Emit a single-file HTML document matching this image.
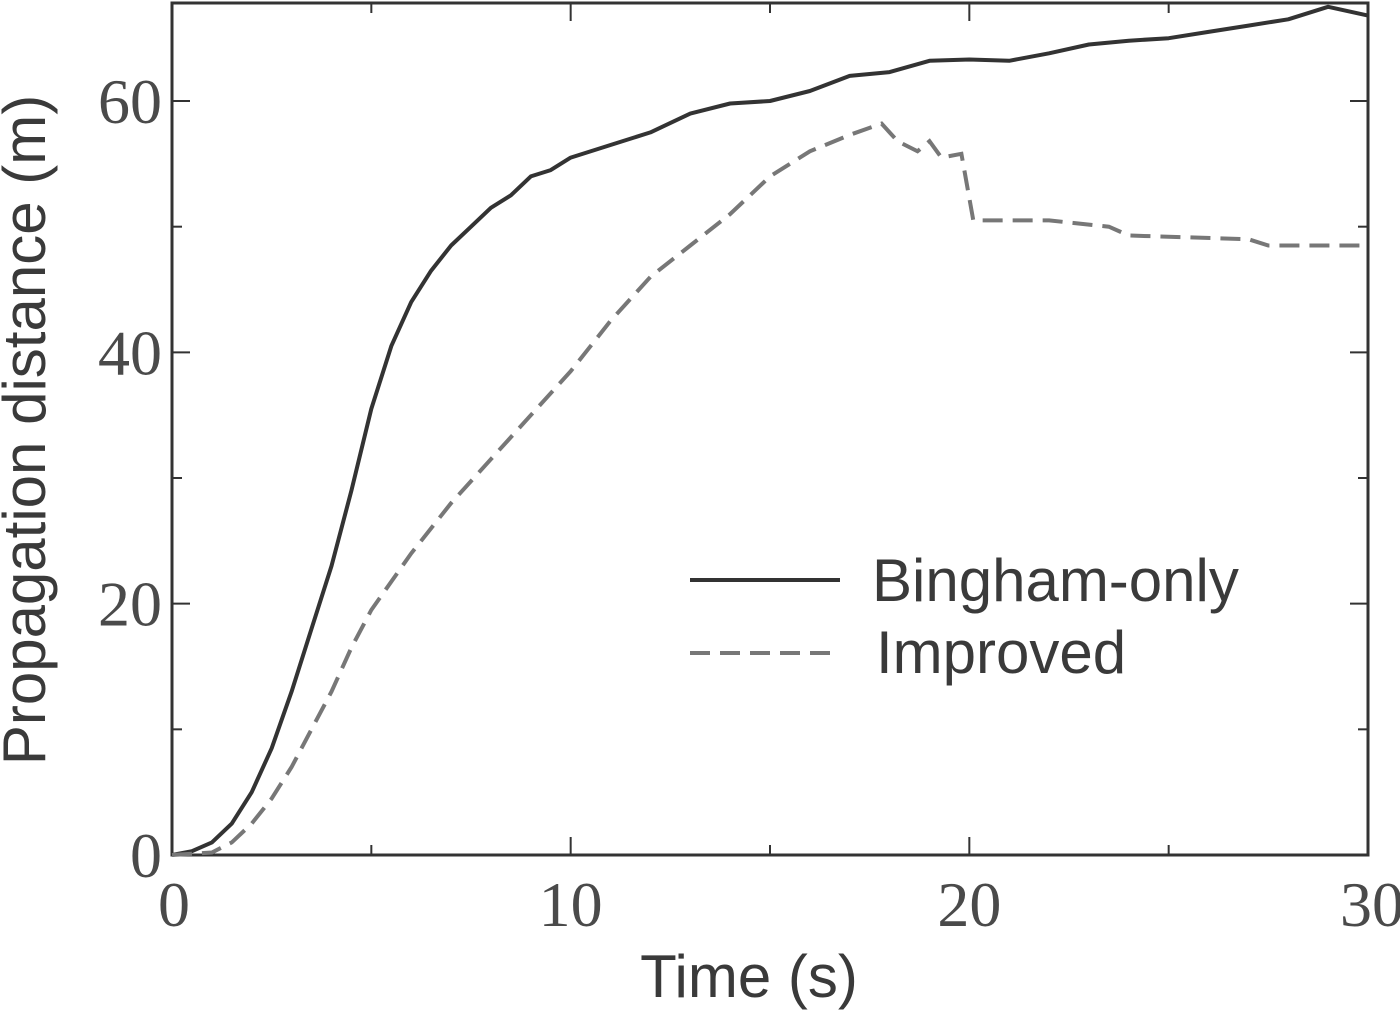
<!DOCTYPE html>
<html><head><meta charset="utf-8"><style>
body{margin:0;background:#fff;}
svg{display:block;}
.tick{font-family:"Liberation Serif",serif;font-size:64px;fill:#4a4a4a;}
.lab{font-family:"Liberation Sans",sans-serif;font-size:60px;fill:#3a3a3a;}
</style></head><body>
<svg id="chart" width="1400" height="1013">
<g id="g"></g>
</svg>
<script>
const binghamT=[0,0.5,1,1.5,2,2.5,3,3.5,4,4.5,5,5.5,6,6.5,7,7.5,8,8.5,9,9.5,10,11,12,13,14,15,16,17,18,19,20,21,22,23,24,25,26,27,28,29,30];
const binghamY=[0,0.3,1,2.5,5,8.5,13,18,23,29,35.5,40.5,44,46.5,48.5,50,51.5,52.5,54,54.5,55.5,56.5,57.5,59,59.8,60,60.8,62,62.3,63.2,63.3,63.2,63.8,64.5,64.8,65,65.5,66,66.5,67.5,66.8];
const improvedT=[0,1,1.5,2,2.5,3,3.5,4,4.5,5,6,7,8,9,10,11,12,13,14,15,16,17,17.8,18.2,18.7,19,19.3,19.8,20.1,22,23.5,24,27,27.5,30];
const improvedY=[0,0.2,1,2.5,4.5,7,10,13,16.5,19.5,24,28,31.5,35,38.5,42.5,46,48.5,51,54,56,57.3,58.2,56.8,56,56.8,55.5,55.8,50.5,50.5,50,49.3,49,48.5,48.5];
const xTicks=[0,10,20,30];
const yTicks=[0,20,40,60];
const xMinor=[5,15,25];
const yMinor=[10,30,50];
const X0=172,X1=1368,Y0=855,Y1=3,XMAX=30,YMAX=67.8;
const sx=v=>X0+(X1-X0)*v/XMAX;
const sy=v=>Y0-(Y0-Y1)*v/YMAX;
const g=document.getElementById('g');
const NS='http://www.w3.org/2000/svg';
function mk(t,a){const e=document.createElementNS(NS,t);for(const k in a)e.setAttribute(k,a[k]);g.appendChild(e);return e;}
let f=mk('rect',{x:X0,y:Y1,width:X1-X0,height:Y0-Y1,fill:'none',stroke:'#333','stroke-width':3});


xTicks.forEach(v=>{
 let t=mk('line',{x1:sx(v),x2:sx(v),y1:Y0,y2:Y0-18,stroke:'#333','stroke-width':2});
 
 
 let t2=mk('line',{x1:sx(v),x2:sx(v),y1:Y1,y2:Y1+18,stroke:'#333','stroke-width':2});
 
 
 let l=mk('text',{x:sx(v)+(v==30?4:(v==0?2:0)),y:Y0+71,'text-anchor':'middle',class:'tick'});l.textContent=v;
 
 
});
xMinor.forEach(v=>{
 let t=mk('line',{x1:sx(v),x2:sx(v),y1:Y0,y2:Y0-10,stroke:'#333','stroke-width':2});
 
 
 let t2=mk('line',{x1:sx(v),x2:sx(v),y1:Y1,y2:Y1+10,stroke:'#333','stroke-width':2});
 
 
});
yTicks.forEach(v=>{
 let t=mk('line',{x1:X0,x2:X0+18,y1:sy(v),y2:sy(v),stroke:'#333','stroke-width':2});
 
 
 let t2=mk('line',{x1:X1,x2:X1-18,y1:sy(v),y2:sy(v),stroke:'#333','stroke-width':2});
 
 
 let l=mk('text',{x:X0-10,y:sy(v)+22,'text-anchor':'end',class:'tick'});l.textContent=v;
 
 
});
yMinor.forEach(v=>{
 let t=mk('line',{x1:X0,x2:X0+10,y1:sy(v),y2:sy(v),stroke:'#333','stroke-width':2});
 
 
 let t2=mk('line',{x1:X1,x2:X1-10,y1:sy(v),y2:sy(v),stroke:'#333','stroke-width':2});
 
 
});
function pts(T,Y){return T.map((t,i)=>sx(t).toFixed(1)+','+sy(Y[i]).toFixed(1)).join(' ');}
let b=mk('polyline',{points:pts(binghamT,binghamY),fill:'none',stroke:'#333','stroke-width':4,'stroke-linejoin':'round'});


let im=mk('polyline',{points:pts(improvedT,improvedY),fill:'none',stroke:'#777','stroke-width':4,'stroke-dasharray':'20,10'});


let l1=mk('line',{x1:690,x2:840,y1:580,y2:580,stroke:'#333','stroke-width':4});


let l2=mk('line',{x1:690,x2:840,y1:653,y2:653,stroke:'#777','stroke-width':4,'stroke-dasharray':'20,10'});


let t1=mk('text',{x:872,y:601,class:'lab'});t1.textContent='Bingham-only';


let t2=mk('text',{x:876,y:673,class:'lab'});t2.textContent='Improved';


let xl=mk('text',{x:749,y:997,'text-anchor':'middle',class:'lab'});xl.textContent='Time (s)';


let yl=mk('text',{x:0,y:0,'text-anchor':'middle',class:'lab',transform:'translate(45,430) rotate(-90)'});yl.textContent='Propagation distance (m)';


</script>
</body></html>
